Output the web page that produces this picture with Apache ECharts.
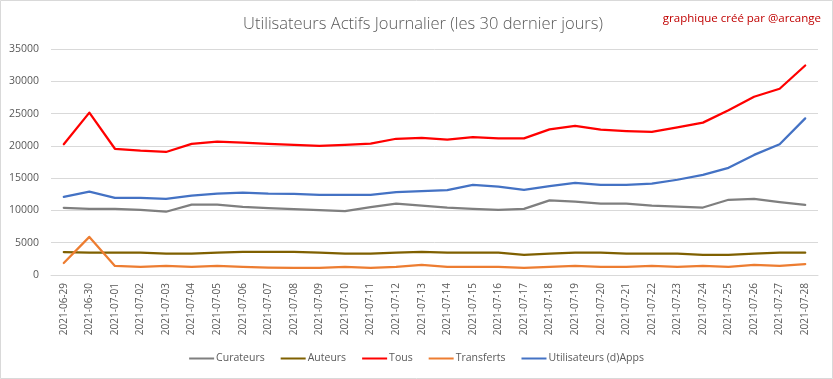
<!DOCTYPE html>
<html><head><meta charset="utf-8">
<script src="https://cdn.jsdelivr.net/npm/echarts@6/dist/echarts.min.js"></script>
<style>html,body{margin:0;padding:0;background:#fff}#c{width:833px;height:379px}</style>
</head><body><div id="c"></div>
<script>
const dates = ["2021-06-29","2021-06-30","2021-07-01","2021-07-02","2021-07-03","2021-07-04","2021-07-05","2021-07-06","2021-07-07","2021-07-08","2021-07-09","2021-07-10","2021-07-11","2021-07-12","2021-07-13","2021-07-14","2021-07-15","2021-07-16","2021-07-17","2021-07-18","2021-07-19","2021-07-20","2021-07-21","2021-07-22","2021-07-23","2021-07-24","2021-07-25","2021-07-26","2021-07-27","2021-07-28"];
const curateurs = [10400,10250,10250,10100,9800,10900,10900,10550,10350,10200,10050,9900,10500,11050,10750,10450,10250,10100,10250,11550,11350,11050,11050,10750,10600,10450,11650,11800,11300,10850];
const auteurs = [3550,3450,3450,3450,3300,3300,3450,3600,3600,3600,3450,3300,3300,3450,3600,3450,3450,3450,3100,3300,3450,3450,3300,3300,3300,3100,3100,3300,3450,3450];
const tous = [20250,25150,19550,19250,19050,20300,20650,20500,20300,20150,20000,20150,20350,21100,21250,20950,21350,21150,21150,22550,23100,22500,22300,22150,22850,23600,25500,27600,28850,32450];
const transferts = [1850,5900,1400,1250,1400,1250,1400,1250,1150,1100,1100,1250,1100,1250,1550,1250,1250,1250,1100,1250,1400,1250,1250,1400,1250,1400,1250,1550,1400,1700];
const dapps = [12100,12900,11950,11950,11800,12300,12600,12750,12600,12550,12400,12400,12400,12850,13000,13150,13950,13700,13200,13750,14250,13950,13950,14150,14750,15500,16600,18600,20250,24250];
const yTicks = {min:0, max:35000, interval:5000};

const chart = echarts.init(document.getElementById('c'), null, {renderer:'canvas'});
const font = '"Open Sans", sans-serif';
function s(name, data, color){
  return {name, type:'line', data, symbol:'none', smooth:false,
    lineStyle:{color, width:2.25, cap:'round', join:'round'}, itemStyle:{color}};
}
chart.setOption({
  animation:false,
  backgroundColor:'#fff',
  title:[
    {text:'Utilisateurs Actifs Journalier (les 30 dernier jours)', left:418, top:11, textAlign:'center',
     textStyle:{fontFamily:font, fontWeight:300, fontSize:16.5, color:'#595959'}},
    {text:'graphique créé par @arcange', right:7, top:8,
     textStyle:{fontFamily:font, fontWeight:'normal', fontSize:11.5, color:'#c00000'}}
  ],
  graphic:[{type:'rect', shape:{x:0.5,y:0.5,width:832,height:378}, style:{fill:'none', stroke:'#d9d9d9', lineWidth:1}, silent:true}],
  grid:{left:51, right:15, top:49, bottom:104, containLabel:false},
  legend:{bottom:10, left:'center', itemWidth:25, itemHeight:2, itemGap:16, icon:'rect',
    textStyle:{fontFamily:font, fontSize:10.5, color:'#595959', padding:[0,0,0,-3]},
    data:['Curateurs','Auteurs','Tous','Transferts','Utilisateurs (d)Apps']},
  xAxis:{type:'category', data:dates, boundaryGap:true,
    axisLine:{lineStyle:{color:'#d9d9d9'}}, axisTick:{show:false},
    axisLabel:{rotate:90, interval:0, fontFamily:font, fontSize:10, color:'#595959', margin:8}},
  yAxis:{type:'value', min:yTicks.min, max:yTicks.max, interval:yTicks.interval,
    axisLine:{show:false}, axisTick:{show:false},
    splitLine:{lineStyle:{color:'#d9d9d9', width:1}},
    axisLabel:{fontFamily:font, fontSize:10.5, color:'#595959', margin:12, formatter:v=>String(v)}},
  series:[
    s('Curateurs', curateurs, '#7f7f7f'),
    s('Auteurs', auteurs, '#7f6000'),
    s('Tous', tous, '#ff0000'),
    s('Transferts', transferts, '#ed7d31'),
    s('Utilisateurs (d)Apps', dapps, '#4472c4')
  ]
});
</script></body></html>
